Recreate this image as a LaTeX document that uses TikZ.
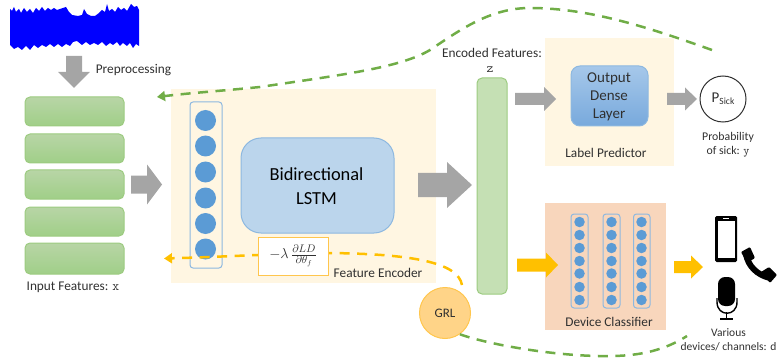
\documentclass[tikz,border=0pt]{standalone}
\usepackage{fontspec}
\setmainfont{Carlito}
\usetikzlibrary{arrows.meta}
\definecolor{txt}{HTML}{303030}
\definecolor{cream}{HTML}{FFF6E2}
\definecolor{peach}{HTML}{F8D6BC}
\definecolor{lstmfill}{HTML}{BBD5EC}
\definecolor{edgeblue}{HTML}{8DB8E0}
\definecolor{dot}{HTML}{5B9BD5}
\definecolor{grnedge}{HTML}{9CCB80}
\definecolor{grnfill}{HTML}{C5E0B4}
\definecolor{grndash}{HTML}{70AD47}
\definecolor{yel}{HTML}{FFC000}
\definecolor{arrowgrey}{HTML}{A5A5A5}
\definecolor{grlfill}{HTML}{FFD488}
\definecolor{grledge}{HTML}{FFC64D}
\definecolor{ftop}{HTML}{B8D5A6}
\definecolor{fbot}{HTML}{A0CF88}
\definecolor{dtop}{HTML}{A6C8EA}
\definecolor{dbot}{HTML}{78A9DC}
\tikzset{
  x=1pt,y=-1pt,
  lbl/.style={text=txt,font=\fontsize{13.3}{14}\selectfont,inner sep=0pt,align=center},
  feat/.style={draw=grnedge,line width=1pt,rounded corners=5pt,top color=ftop,bottom color=fbot},
  neuron/.style={circle,fill=dot,inner sep=0pt},
  colbox/.style={draw=edgeblue,line width=1pt,rounded corners=3pt},
  gdash/.style={draw=grndash,line width=2.5pt,dash pattern=on 10pt off 7.5pt},
  ydash/.style={draw=yel,line width=2.5pt,dash pattern=on 10pt off 7.5pt},
}
% #1 colour, #2 x start, #3 x head, #4 x tip, #5 y centre, #6 half shaft, #7 half head
\newcommand{\harrow}[7]{\fill[#1] (#2,#5-#6) -- (#3,#5-#6) -- (#3,#5-#7) -- (#4,#5) -- (#3,#5+#7) -- (#3,#5+#6) -- (#2,#5+#6) -- cycle;}
\begin{document}
\begin{tikzpicture}
\useasboundingbox (0,0) rectangle (778,358);
% waveform
\fill[blue] (10,9) -- (12,11) -- (14,7) -- (16,12) -- (19,9) -- (21,13) -- (24,8) -- (27,12) -- (30,9) -- (33,13) -- (36,8) -- (39,11) -- (42,7) -- (45,11) -- (48,8) -- (51,10) -- (54,8) -- (57,10) -- (60,9) -- (63,8) -- (66,7) -- (69,12) -- (72,15) -- (78,16) -- (82,15) -- (84,9) -- (87,14) -- (91,16) -- (95,16) -- (99,13) -- (102,10) -- (105,12) -- (107,4) -- (109,11) -- (112,9) -- (115,12) -- (118,7) -- (121,10) -- (124,8) -- (127,11) -- (131,4) -- (134,7) -- (137,6) -- (139,10)
 -- (139,46) -- (136,44) -- (133,48) -- (130,43) -- (127,46) -- (123,43) -- (120,46) -- (117,42) -- (113,45) -- (110,43) -- (106,46) -- (102,42) -- (98,45) -- (94,43) -- (90,45) -- (86,42) -- (82,45) -- (77,41) -- (73,42) -- (70,46) -- (66,44) -- (62,47) -- (58,44) -- (54,47) -- (50,44) -- (46,47) -- (42,45) -- (38,48) -- (34,45) -- (30,50) -- (26,46) -- (22,50) -- (18,47) -- (14,49) -- (10,45) -- cycle;
% preprocessing arrow
\fill[arrowgrey] (66,56) -- (82,56) -- (82,72) -- (90,72) -- (74,88) -- (58,72) -- (66,72) -- cycle;
\node[lbl,anchor=center] (prep) at (133.5,70) {Preprocessing};
% input features
\foreach \n/\a/\b in {f1/97/126,f2/134/163,f3/170/199,f4/207/236,f5/243/274}{
  \path[feat] (25,\a) rectangle (124,\b);
}
\node[lbl] (inp) at (73,287) {Input Features: {\ttfamily x}};
\harrow{arrowgrey}{131}{147}{162}{184.5}{9}{20}
% feature encoder
\fill[cream] (171,89) rectangle (436,283);
\path[colbox] (190,102) rectangle (222,268);
\foreach \n/\y in {a/120.5,b/146,c/172,d/198,e/223.5,f/249}{
  \node[neuron,minimum size=21pt] (n\n) at (205.5,\y) {};
}
\node[draw=edgeblue,fill=lstmfill,line width=1pt,rounded corners=20pt,minimum width=153pt,minimum height=95pt,inner sep=0pt] (lstm) at (317.5,185.5) {};
\node[text=black,font=\fontsize{18.4}{24}\selectfont,align=center,inner sep=0pt] (lstmt) at (316.5,186) {Bidirectional\\LSTM};
\node[lbl] (fe) at (378,273) {Feature Encoder};
% z bar
\node[draw=grnedge,fill=grnfill,line width=1pt,rounded corners=5pt,minimum width=30pt,minimum height=216pt,inner sep=0pt] (zbar) at (492,186) {};
\node[lbl] (enc) at (492,53) {Encoded Features:};
\node[lbl] (zz) at (490,70) {\ttfamily z};
\harrow{arrowgrey}{418}{447}{472}{185}{12}{23}
% GRL and yellow dashes
\node[circle,draw=grledge,line width=1pt,fill=grlfill,minimum size=51pt,inner sep=0pt,text=txt,font=\fontsize{13}{14}\selectfont] (grl) at (445,313) {GRL};
\coordinate (yend) at (164,258.5);
\draw[ydash,-{Triangle[length=8pt,width=10pt]}] (462,285) .. controls (458,262) and (410,254) .. (330,253) .. controls (290,253) and (220,257) .. (yend);
\node[draw=grledge,fill=white,line width=1pt,minimum width=70pt,minimum height=38pt,inner sep=0pt] (grad) at (293,256) {\fontsize{15}{17}\selectfont\color{txt}$-\lambda\,\frac{\partial LD}{\partial\theta_f}$};
% label predictor
\fill[cream] (545,38) rectangle (674,166);
\harrow{arrowgrey}{515}{544}{556}{99}{6}{12}
\node[draw=edgeblue,line width=1pt,top color=dtop,bottom color=dbot,rounded corners=9pt,minimum width=77pt,minimum height=60pt,inner sep=0pt] (out) at (609.5,96) {};
\node[lbl,font=\fontsize{15}{18.2}\selectfont] (outt) at (609,97) {Output\\Dense\\Layer};
\node[lbl] (lp) at (606,153) {Label Predictor};
\harrow{arrowgrey}{667}{685}{697}{99}{6}{11.5}
\node[circle,draw=txt,line width=1pt,minimum size=46pt,inner sep=0pt,text=txt,font=\fontsize{15}{16}\selectfont] (psick) at (723,99) {P\raisebox{-2pt}{\fontsize{9.5}{10}\selectfont Sick}};
\node[lbl,font=\fontsize{11.8}{14}\selectfont] (prob) at (728,145) {Probability\\of sick: {\ttfamily y}};
% green dashes
\coordinate (gs) at (712,50);
\coordinate (gt) at (157,97);
\draw[gdash,-{Triangle[length=8pt,width=10pt]}] (gs) .. controls (650,28) and (590,8) .. (530,8) .. controls (490,8) and (460,30) .. (430,50) .. controls (400,68) and (340,75) .. (260,87) .. controls (220,91) and (190,93) .. (gt);
\coordinate (ge) at (687,336);
\draw[gdash] (grl.-55) .. controls (490,345) and (560,357) .. (610,356) .. controls (640,356) and (665,350) .. (ge);
% device classifier
\fill[peach] (545,203) rectangle (666,330);
\foreach \n/\xa/\xb/\xc in {p/571/588/579.5,q/603/620/611.5,r/633.5/650/641.5}{
  \path[colbox] (\xa,214) rectangle (\xb,308);
  \foreach \k/\y in {1/222,2/235,3/248,4/261,5/273.5,6/287,7/300}{
    \node[neuron,minimum size=10.5pt] (\n\k) at (\xc,\y) {};
  }
}
\node[lbl] (dc) at (609,322) {Device Classifier};
\harrow{yel}{517}{546}{558}{265}{6.5}{12.5}
\harrow{yel}{674}{691}{703}{267}{6}{11.5}
% phone
\fill[black,rounded corners=1.5pt] (715,216) rectangle (737,262);
\fill[white] (717.5,221) rectangle (734.5,258);
\fill[white] (723,218) rectangle (729,219);
% handset
\draw[black,line width=6pt] (746,254) .. controls (748,266) and (757,275) .. (770,278);
\fill[black,rounded corners=1pt] (741,252) -- (750,247) -- (755,258) -- (747,263) -- cycle;
\fill[black,rounded corners=1pt] (761,272) -- (769,267) -- (777,275) -- (770,283) -- cycle;
% microphone
\fill[black,rounded corners=7pt] (718,277) rectangle (735,306);
\draw[black,line width=1.4pt] (717,298) -- (717,302) .. controls (717,317) and (737,317) .. (737,302) -- (737,298);
\draw[black,line width=1.4pt] (726.5,312) -- (726.5,318);
\draw[black,line width=1.4pt] (720,319) -- (733,319);
\node[lbl,font=\fontsize{11.5}{14}\selectfont] (var) at (728.5,339.5) {Various\\devices/ channels: d};
\end{tikzpicture}
\end{document}
